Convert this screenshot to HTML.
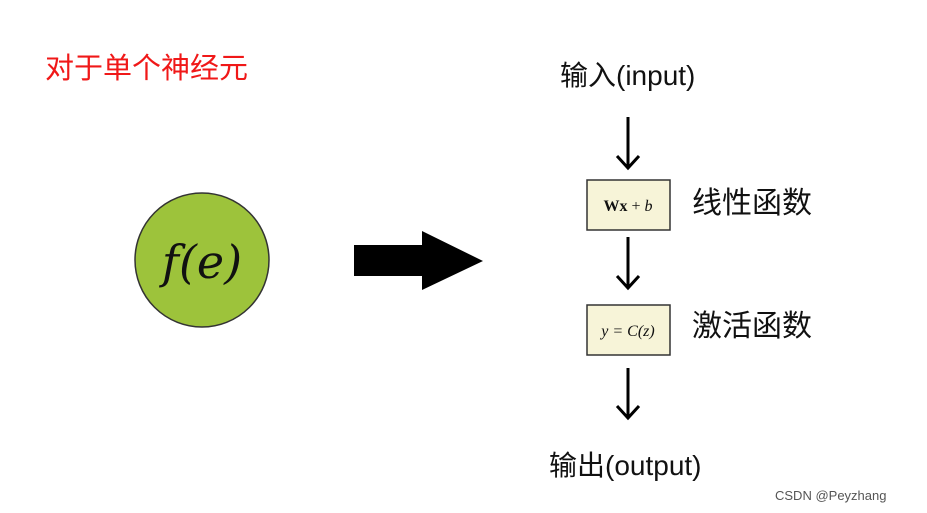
<!DOCTYPE html>
<html><head><meta charset="utf-8"><style>
body{margin:0;width:927px;height:513px;background:#fff;position:relative;overflow:hidden;font-family:"Liberation Sans","Noto Sans CJK SC",sans-serif}
.t{position:absolute;white-space:nowrap;line-height:1}
</style></head><body>
<div class="t" style="left:45px;top:55px;font-size:29px;color:#f01818">对于单个神经元</div>
<div class="t" style="left:560px;top:62px;font-size:28px;color:#111">输入(input)</div>
<div class="t" style="left:549px;top:452px;font-size:28px;color:#111">输出(output)</div>
<div class="t" style="left:692px;top:189px;font-size:30px;color:#111">线性函数</div>
<div class="t" style="left:692px;top:312px;font-size:30px;color:#111">激活函数</div>
<div class="t" style="left:775px;top:489px;font-size:13px;color:#555">CSDN @Peyzhang</div>
<svg width="927" height="513" style="position:absolute;left:0;top:0">
<circle cx="202" cy="260" r="67" fill="#9dc33b" stroke="#333" stroke-width="1.5"/>
<text x="202" y="278" text-anchor="middle" font-family="DejaVu Serif,serif" font-size="46" font-style="italic" fill="#111">f(e)</text>
<polygon points="354,245 422,245 422,231 483,261 422,290 422,276 354,276" fill="#000"/>
<rect x="587" y="180" width="83" height="50" fill="#f7f4d8" stroke="#333" stroke-width="1.5"/>
<text x="628" y="211" text-anchor="middle" font-family="Liberation Serif,serif" font-size="16" fill="#111"><tspan font-weight="bold">Wx</tspan> + <tspan font-style="italic">b</tspan></text>
<rect x="587" y="305" width="83" height="50" fill="#f7f4d8" stroke="#333" stroke-width="1.5"/>
<text x="628" y="336" text-anchor="middle" font-family="Liberation Serif,serif" font-size="16" font-style="italic" fill="#111">y = C(z)</text>
<g stroke="#000" stroke-width="3" fill="none">
<line x1="628" y1="117" x2="628" y2="166"/><polyline points="617,156 628,168 639,156"/>
<line x1="628" y1="237" x2="628" y2="286"/><polyline points="617,276 628,288 639,276"/>
<line x1="628" y1="368" x2="628" y2="416"/><polyline points="617,406 628,418 639,406"/>
</g>
</svg>
</body></html>
